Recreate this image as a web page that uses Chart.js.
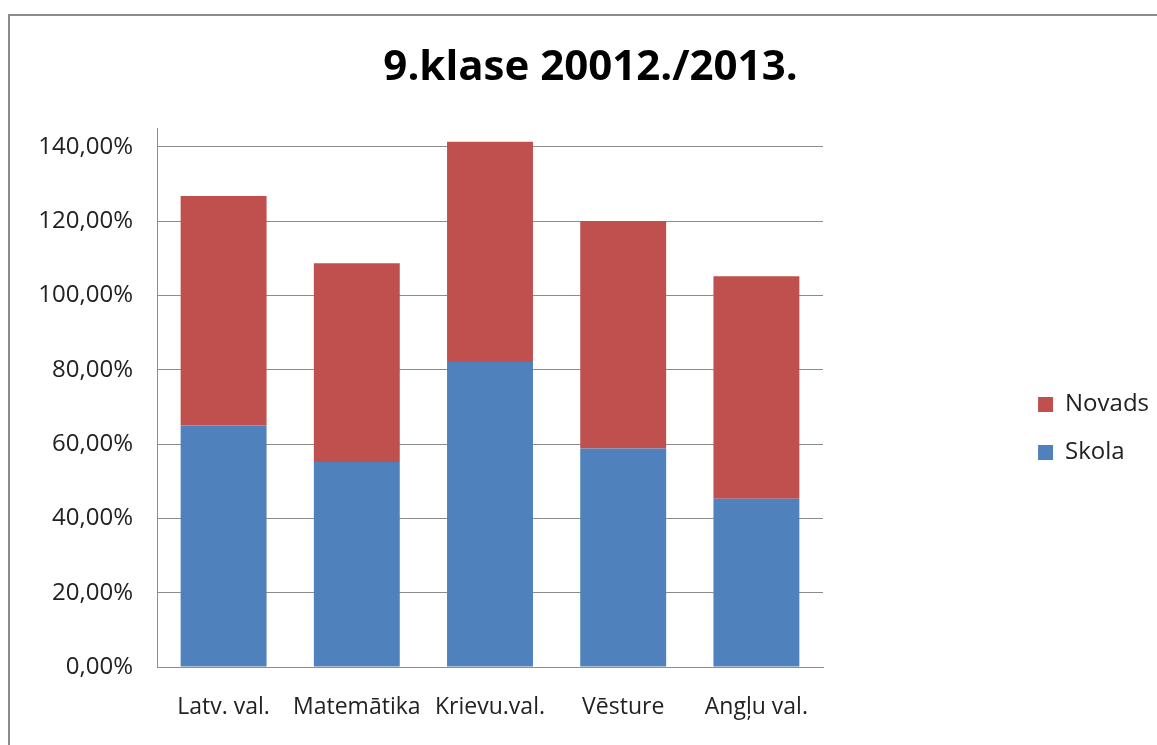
<!DOCTYPE html>
<html>
<head>
<meta charset="utf-8">
<script src="https://cdn.jsdelivr.net/npm/chart.js@4"></script>
<style>
    html, body { margin: 0; padding: 0; background: #fff; overflow: hidden; }
    #wrap { position: relative; width: 1157px; height: 745px; }
    #frame {
        position: absolute; left: 8px; top: 14px; width: 1200px; height: 800px;
        border-left: 2px solid #8c8c8c; border-top: 2px solid #8c8c8c;
    }
    #chart { position: absolute; left: 0; top: 0; }
</style>
</head>
<body>
<div id="wrap">
    <div id="frame"></div>
    <canvas id="chart" width="1157" height="745"></canvas>
</div>
<script>
const subjects = ['Latv. val.', 'Matemātika', 'Krievu.val.', 'Vēsture', 'Angļu val.'];
const skola = [65.0, 55.2, 82.1, 58.8, 45.3];
const novads = [61.8, 53.5, 59.3, 61.3, 59.9];
const yTicks = [0, 20, 40, 60, 80, 100, 120, 140];

const FONT = 'Open Sans';

// push the legend to the right edge and leave the gap next to the plot empty
const legendRight = {
    id: 'legendRight',
    beforeInit(chart) {
        const legend = chart.legend;
        const fit = legend.fit;
        legend.fit = function () {
            fit.call(this);
            this.naturalWidth = this.width;
            this.width = 334;
        };
    },
    afterLayout(chart) {
        const legend = chart.legend;
        legend.left = legend.right - legend.naturalWidth + 2;
        legend.top += 112; // items sit a bit below the middle of the plot
    }
};

const data = {
    labels: subjects,
    datasets: [
        { label: 'Skola', data: skola, backgroundColor: '#4F81BD' },
        { label: 'Novads', data: novads, backgroundColor: '#C0504D' }
    ]
};

const config = {
    type: 'bar',
    data,
    plugins: [legendRight],
    options: {
        responsive: false,
        animation: false,
        layout: { padding: { left: 24, right: 0, top: 0, bottom: 0 } },
        datasets: {
            bar: { barPercentage: 0.645, categoryPercentage: 1 }
        },
        scales: {
            x: {
                stacked: true,
                afterFit(scale) {
                    scale.height = 78;
                },
                grid: { display: false, drawTicks: false },
                border: { color: '#8c8c8c', width: 1 },
                ticks: {
                    color: '#222', padding: 27, autoSkip: false, maxRotation: 0,
                    font: { family: FONT, size: 23 }
                }
            },
            y: {
                stacked: true,
                min: 0,
                max: 145,
                afterBuildTicks(scale) {
                    scale.ticks = yTicks.map(v => ({ value: v }));
                },
                afterFit(scale) {
                    scale.width = 157 - 24;
                },
                grid: { color: '#8c8c8c', lineWidth: 1, drawTicks: false },
                border: { color: '#8c8c8c', width: 1 },
                ticks: {
                    color: '#222',
                    padding: 24,
                    font: { family: FONT, size: 24 },
                    callback: v => v.toFixed(2).replace('.', ',') + '%'
                }
            }
        },
        plugins: {
            title: {
                display: true,
                text: '9.klase 20012./2013.',
                color: '#000',
                font: { family: FONT, size: 42, weight: 'bold' },
                padding: { top: 43, bottom: 35 }
            },
            legend: {
                position: 'right',
                reverse: true,
                labels: {
                    color: '#222',
                    boxWidth: 15,
                    boxHeight: 15,
                    padding: 24,
                    font: { family: FONT, size: 24 }
                }
            },
            tooltip: { enabled: false }
        }
    }
};

const myChart = new Chart(document.getElementById('chart'), config);
</script>
</body>
</html>
